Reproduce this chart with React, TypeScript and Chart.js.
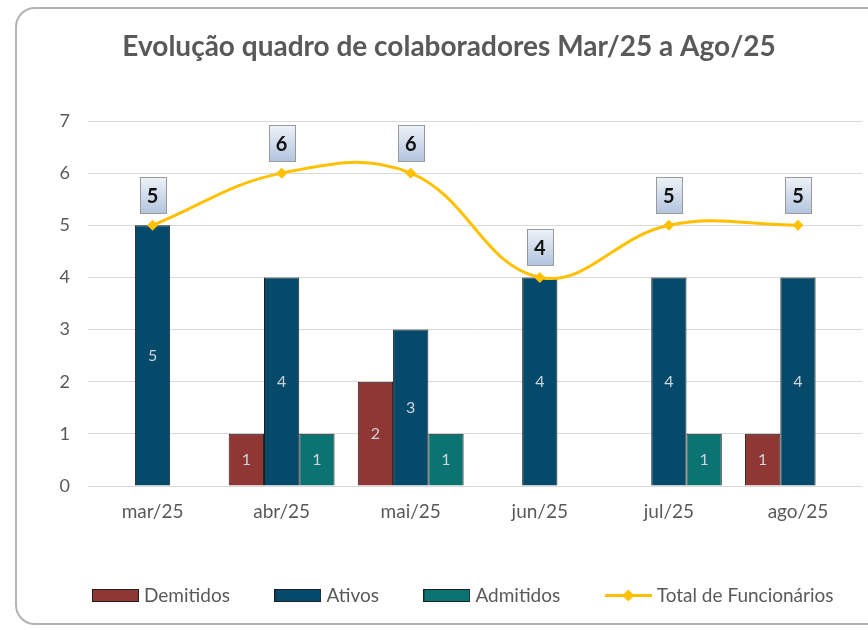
import { useEffect, useRef } from "react";
import { Chart, registerables } from "chart.js";

Chart.register(...registerables);

const categories = ["mar/25", "abr/25", "mai/25", "jun/25", "jul/25", "ago/25"];
const demitidos = [null, 1, 2, null, null, 1];
const ativos = [5, 4, 3, 4, 4, 4];
const admitidos = [null, 1, 1, null, 1, null];
const totalFuncionarios = [5, 6, 6, 4, 5, 5];
const seriesNames = ["Demitidos", "Ativos", "Admitidos", "Total de Funcionários"];
const titleText = "Evolução quadro de colaboradores Mar/25 a Ago/25";
const yMin = 0;
const yMax = 7;

const FONT = "Lato, 'Open Sans', sans-serif";
const RED = "#8f3732";
const BLUE = "#064a6b";
const TEAL = "#0b7371";
const GOLD = "#FFC000";
const TEXT = "#595959";

const ICON_W = 47;
const ICON_H = 13;

function makeBox(fill: string) {
  const c = document.createElement("canvas");
  c.width = ICON_W;
  c.height = ICON_H;
  const g = c.getContext("2d")!;
  g.fillStyle = fill;
  g.fillRect(0, 0, ICON_W, ICON_H);
  g.strokeStyle = "#1f1f1f";
  g.lineWidth = 1;
  g.strokeRect(0.5, 0.5, ICON_W - 1, ICON_H - 1);
  return c;
}

function makeLine() {
  const c = document.createElement("canvas");
  c.width = ICON_W;
  c.height = ICON_H;
  const g = c.getContext("2d")!;
  const cy = ICON_H / 2;
  g.strokeStyle = GOLD;
  g.lineWidth = 3;
  g.beginPath();
  g.moveTo(0, cy);
  g.lineTo(ICON_W, cy);
  g.stroke();
  g.fillStyle = GOLD;
  const mx = ICON_W / 2;
  g.beginPath();
  g.moveTo(mx, cy - 6);
  g.lineTo(mx + 6, cy);
  g.lineTo(mx, cy + 6);
  g.lineTo(mx - 6, cy);
  g.closePath();
  g.fill();
  return c;
}

const valueLabels = {
  id: "valueLabels",
  afterDatasetsDraw(chart: any) {
    const ctx = chart.ctx;
    chart.data.datasets.forEach((ds: any, i: number) => {
      const meta = chart.getDatasetMeta(i);
      meta.data.forEach((el: any, j: number) => {
        const v = ds.data[j];
        if (v == null) return;
        const p = el.getProps(["x", "y", "base"], true);
        ctx.save();
        if (meta.type === "bar") {
          ctx.font = `16px ${FONT}`;
          ctx.fillStyle = "#cfd4da";
          ctx.textAlign = "center";
          ctx.textBaseline = "middle";
          ctx.fillText(String(v), p.x, (p.y + p.base) / 2);
        } else {
          const w = 26;
          const h = 36;
          const bx = Math.round(p.x - w / 2) + 0.5;
          const by = Math.round(p.y - 12 - h) + 0.5;
          const grad = ctx.createLinearGradient(0, by, 0, by + h);
          grad.addColorStop(0, "#eef2f8");
          grad.addColorStop(1, "#b2c4de");
          ctx.fillStyle = grad;
          ctx.fillRect(bx, by, w, h);
          ctx.strokeStyle = "#9a9a9a";
          ctx.lineWidth = 1;
          ctx.strokeRect(bx, by, w, h);
          ctx.font = `bold 20px ${FONT}`;
          ctx.fillStyle = "#111111";
          ctx.textAlign = "center";
          ctx.textBaseline = "middle";
          ctx.fillText(String(v), p.x, by + h / 2 + 1);
        }
        ctx.restore();
      });
    });
  },
};

const boxShift = {
  id: "boxShift",
  afterLayout(chart: any) {
    const lg = chart.legend;
    if (lg) {
      const pad = lg.options.labels.padding;
      // icon (47 wide) is centred at x + 19, so its left edge is x - 4.5; want it at 92
      const dx = 96.5 - (lg.left + pad);
      lg.left += dx;
      lg.right += dx;
      lg.top -= 15;
      lg.bottom -= 15;
    }
    const tt = chart.titleBlock;
    if (tt) {
      const dx = 449 - (tt.left + tt.right) / 2;
      tt.left += dx;
      tt.right += dx;
    }
  },
};

export default function App() {
  const ref = useRef<HTMLCanvasElement | null>(null);

  useEffect(() => {
    if (!ref.current) return;
    const icons = [makeBox(RED), makeBox(BLUE), makeBox(TEAL), makeLine()];
    const barCommon = {
      borderColor: "#1f1f1f",
      borderWidth: 1,
      categoryPercentage: 0.82,
      barPercentage: 1,
      order: 1,
    };
    const chart = new Chart(ref.current, {
      type: "bar",
      data: {
        labels: categories,
        datasets: [
          { label: seriesNames[0], data: demitidos, backgroundColor: RED, ...barCommon },
          { label: seriesNames[1], data: ativos, backgroundColor: BLUE, ...barCommon },
          { label: seriesNames[2], data: admitidos, backgroundColor: TEAL, ...barCommon },
          {
            type: "line",
            label: seriesNames[3],
            data: totalFuncionarios,
            borderColor: GOLD,
            backgroundColor: GOLD,
            borderWidth: 3,
            tension: 0.4,
            pointStyle: "rectRot",
            pointRadius: 5.5,
            pointBackgroundColor: GOLD,
            pointBorderColor: GOLD,
            pointBorderWidth: 0,
            order: 0,
          } as any,
        ],
      },
      options: {
        responsive: false,
        animation: false,
        events: [],
        layout: { padding: { left: 0, right: 3, top: 0, bottom: 0 } },
        scales: {
          x: {
            grid: { display: false, drawTicks: false },
            border: { display: false },
            ticks: { color: TEXT, font: { family: FONT, size: 19 }, padding: 14 },
            afterFit: (s: any) => {
              s.height = 66;
            },
          },
          y: {
            min: yMin,
            max: yMax,
            grid: { color: "#d9d9d9", drawTicks: false, lineWidth: 1 },
            border: { display: false },
            ticks: { stepSize: 1, color: TEXT, font: { family: FONT, size: 18 }, padding: 18 },
            afterFit: (s: any) => {
              s.width = 88;
            },
          },
        },
        plugins: {
          title: {
            display: true,
            text: titleText,
            color: TEXT,
            font: { family: FONT, size: 28, weight: "bold", lineHeight: 1.2 },
            padding: { top: 30.2, bottom: 57.2 },
          },
          tooltip: { enabled: false },
          legend: {
            display: true,
            position: "bottom",
            align: "start",
            labels: {
              usePointStyle: true,
              pointStyleWidth: 38,
              padding: 49,
              color: TEXT,
              font: { family: FONT, size: 19 },
              generateLabels: () =>
                seriesNames.map((name, i) => ({
                  text: name,
                  datasetIndex: i,
                  pointStyle: icons[i],
                  fillStyle: "transparent",
                  strokeStyle: "transparent",
                  lineWidth: 0,
                  hidden: false,
                  fontColor: TEXT,
                })),
              sort: (a: any, b: any) => a.datasetIndex - b.datasetIndex,
            },
          },
        },
      },
      plugins: [valueLabels, boxShift],
    } as any);
    return () => chart.destroy();
  }, []);

  return (
    <div
      style={{
        position: "fixed",
        left: 0,
        top: 0,
        width: 868,
        height: 630,
        overflow: "hidden",
        background: "#ffffff",
      }}
    >
      <div
        style={{
          position: "absolute",
          left: 15,
          top: 7,
          width: 900,
          height: 618,
          border: "2px solid #b3b3b3",
          borderRadius: 20,
          boxSizing: "border-box",
        }}
      />
      <canvas
        ref={ref}
        width={868}
        height={630}
        style={{ position: "absolute", left: 0, top: 0, width: 868, height: 630 }}
      />
    </div>
  );
}
